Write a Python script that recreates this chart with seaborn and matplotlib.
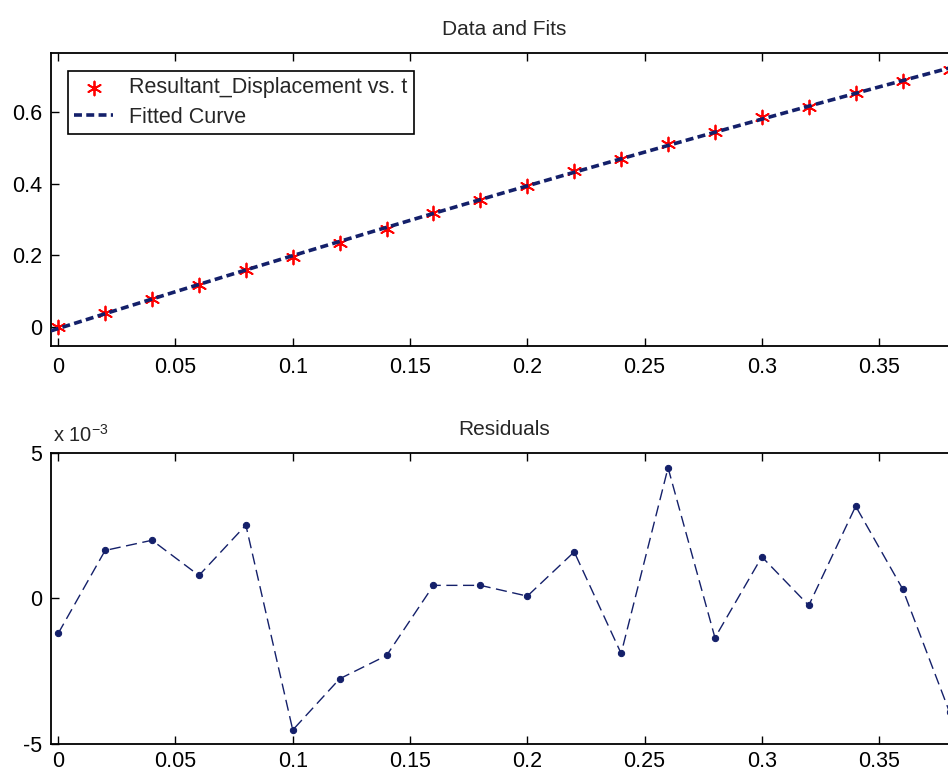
import numpy as np
import matplotlib
matplotlib.use("Agg")
import matplotlib.pyplot as plt
import seaborn as sns

# sample times
t = [0.00, 0.02, 0.04, 0.06, 0.08, 0.10, 0.12, 0.14, 0.16, 0.18,
     0.20, 0.22, 0.24, 0.26, 0.28, 0.30, 0.32, 0.34, 0.36, 0.38]

# measured resultant displacement
displacement = [0.000, 0.038, 0.079, 0.117, 0.159, 0.195, 0.235, 0.275, 0.318, 0.355,
                0.394, 0.435, 0.468, 0.512, 0.545, 0.587, 0.615, 0.654, 0.687, 0.718]

# residuals of the fit (units of 1e-3)
residuals = [-1.20, 1.65, 2.00, 0.79, 2.52, -4.52, -2.76, -1.96, 0.45, 0.45,
             0.08, 1.60, -1.89, 4.49, -1.35, 1.43, -0.24, 3.17, 0.33, -3.90]

x_ticks = [0, 0.05, 0.1, 0.15, 0.2, 0.25, 0.3, 0.35]
x_tick_labels = ["0", "0.05", "0.1", "0.15", "0.2", "0.25", "0.3", "0.35"]
top_y_ticks = [0, 0.2, 0.4, 0.6]
top_y_labels = ["0", "0.2", "0.4", "0.6"]
res_y_ticks = [-5, 0, 5]
res_y_labels = ["-5", "0", "5"]

sns.set_style("ticks")
plt.rcParams["font.family"] = ["Liberation Sans", "DejaVu Sans"]
plt.rcParams["mathtext.fontset"] = "custom"
plt.rcParams["mathtext.rm"] = "Liberation Sans"
plt.rcParams["mathtext.it"] = "Liberation Sans"

navy = "#14206a"
xlim = (-0.0032, 0.3832)
fs = 15.5

fig = plt.figure(figsize=(9.48, 7.74), dpi=100)
ax1 = fig.add_axes([0.0535, 0.553, 0.956, 0.3785])
ax2 = fig.add_axes([0.0535, 0.0388, 0.956, 0.376])

# quadratic fit through the measured points
coef = np.polyfit(t, displacement, 2)
t_fit = np.linspace(xlim[0], xlim[1], 200)
y_fit = np.polyval(coef, t_fit)

sns.scatterplot(x=t, y=displacement, ax=ax1, marker=(6, 2, 0), s=100,
                color="red", edgecolor="red", linewidth=1.3,
                label="Resultant_Displacement vs. t", zorder=2)
sns.lineplot(x=t_fit, y=y_fit, ax=ax1, color=navy, linewidth=2.6,
             linestyle=(0, (2.2, 1.2)), label="Fitted Curve", zorder=3)

sns.lineplot(x=t, y=residuals, ax=ax2, color=navy, linewidth=1.0,
             linestyle=(0, (8, 4)), marker="o", markersize=4.5,
             markeredgecolor=navy, legend=False)

for ax in (ax1, ax2):
    ax.set_xlim(*xlim)
    ax.set_xticks(x_ticks)
    ax.set_xticklabels(x_tick_labels)
    ax.tick_params(direction="in", length=6, width=1.0, top=True, right=True,
                   labelsize=fs, colors="black")
    ax.tick_params(axis="y", pad=6)
    for sp in ax.spines.values():
        sp.set_visible(True)
        sp.set_linewidth(1.3)
        sp.set_color("black")
    ax.set_xlabel("")
    ax.set_ylabel("")
ax1.tick_params(axis="x", pad=8)
ax2.tick_params(axis="x", pad=5)

ax1.set_ylim(-0.053, 0.765)
ax1.set_yticks(top_y_ticks)
ax1.set_yticklabels(top_y_labels)
ax1.set_title("Data and Fits", fontsize=15, pad=13)

leg = ax1.legend(loc="upper left", bbox_to_anchor=(0.019, 0.939), borderaxespad=0,
                 fontsize=fs, frameon=True, fancybox=False, handlelength=1.8,
                 handletextpad=0.75, borderpad=0.3, labelspacing=0.4)
leg.get_frame().set_edgecolor("black")
leg.get_frame().set_linewidth(1.2)
leg.get_frame().set_alpha(1)

ax2.set_ylim(-5, 5)
ax2.set_yticks(res_y_ticks)
ax2.set_yticklabels(res_y_labels)
ax2.set_title("Residuals", fontsize=15, pad=13)
ax2.text(0.002, 1.025, r"x 10$^{-3}$", transform=ax2.transAxes, fontsize=14.5,
         ha="left", va="bottom")

fig.savefig("out.png", dpi=100)
